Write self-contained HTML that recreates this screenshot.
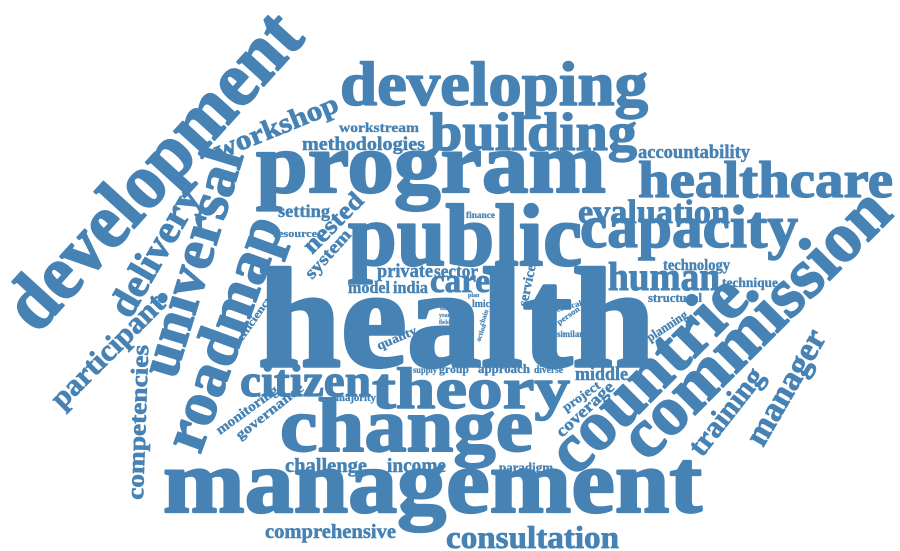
<!DOCTYPE html>
<html><head><meta charset="utf-8"><style>
html,body{margin:0;padding:0;background:#fff;}
svg{display:block;}
text{font-family:"Liberation Serif",serif;font-weight:bold;fill:#4682b4;stroke:#4682b4;stroke-width:0.025em;stroke-linejoin:round;}
</style></head><body>
<svg width="900" height="551" viewBox="0 0 900 551">
<g>
<text x="258" y="366" font-size="142" textLength="397" lengthAdjust="spacingAndGlyphs">health</text>
<text x="256" y="192" font-size="86" textLength="350" lengthAdjust="spacingAndGlyphs">program</text>
<text x="340" y="105" font-size="62" textLength="308" lengthAdjust="spacingAndGlyphs">developing</text>
<text x="430" y="150" font-size="54" textLength="207" lengthAdjust="spacingAndGlyphs">building</text>
<text x="638" y="158" font-size="19" textLength="112" lengthAdjust="spacingAndGlyphs">accountability</text>
<text x="339" y="132" font-size="14" textLength="80" lengthAdjust="spacingAndGlyphs">workstream</text>
<text x="302" y="150" font-size="19" textLength="123" lengthAdjust="spacingAndGlyphs">methodologies</text>
<text x="278" y="217" font-size="18" textLength="52" lengthAdjust="spacingAndGlyphs">setting</text>
<text x="466" y="218" font-size="9" textLength="29" lengthAdjust="spacingAndGlyphs">finance</text>
<text x="273" y="237" font-size="11" textLength="44" lengthAdjust="spacingAndGlyphs">resource</text>
<text x="578" y="223" font-size="34" textLength="152" lengthAdjust="spacingAndGlyphs">evaluation</text>
<text x="638" y="197" font-size="52" textLength="255" lengthAdjust="spacingAndGlyphs">healthcare</text>
<text x="348" y="265" font-size="88" textLength="234" lengthAdjust="spacingAndGlyphs">public</text>
<text x="580" y="247" font-size="60" textLength="218" lengthAdjust="spacingAndGlyphs">capacity</text>
<text x="608" y="290" font-size="40" textLength="112" lengthAdjust="spacingAndGlyphs">human</text>
<text x="663" y="270" font-size="16" textLength="67" lengthAdjust="spacingAndGlyphs">technology</text>
<text x="722" y="287" font-size="14" textLength="56" lengthAdjust="spacingAndGlyphs">technique</text>
<text x="648" y="302" font-size="13" textLength="54" lengthAdjust="spacingAndGlyphs">structural</text>
<text x="557" y="337" font-size="9" textLength="26" lengthAdjust="spacingAndGlyphs">similar</text>
<text x="575" y="380" font-size="19" textLength="53" lengthAdjust="spacingAndGlyphs">middle</text>
<text x="534" y="373" font-size="10" textLength="29" lengthAdjust="spacingAndGlyphs">diverse</text>
<text x="377" y="277" font-size="19" textLength="56" lengthAdjust="spacingAndGlyphs">private</text>
<text x="434" y="277" font-size="18" textLength="44" lengthAdjust="spacingAndGlyphs">sector</text>
<text x="348" y="293" font-size="17" textLength="42" lengthAdjust="spacingAndGlyphs">model</text>
<text x="393" y="293" font-size="17" textLength="35" lengthAdjust="spacingAndGlyphs">india</text>
<text x="430" y="292" font-size="34" textLength="60" lengthAdjust="spacingAndGlyphs">care</text>
<text x="472" y="307" font-size="10" textLength="18" lengthAdjust="spacingAndGlyphs">lmic</text>
<text x="468" y="297" font-size="6">plan</text>
<text x="440" y="310" font-size="6">shift</text>
<text x="439" y="317" font-size="6">year</text>
<text x="439" y="324" font-size="6">field</text>
<text x="478" y="373" font-size="13" textLength="52" lengthAdjust="spacingAndGlyphs">approach</text>
<text x="413" y="373" font-size="9" textLength="24" lengthAdjust="spacingAndGlyphs">supply</text>
<text x="439" y="373" font-size="12" textLength="30" lengthAdjust="spacingAndGlyphs">group</text>
<text x="372" y="408" font-size="58" textLength="198" lengthAdjust="spacingAndGlyphs">theory</text>
<text x="280" y="451" font-size="76" textLength="253" lengthAdjust="spacingAndGlyphs">change</text>
<text x="240" y="396" font-size="46" textLength="131" lengthAdjust="spacingAndGlyphs">citizen</text>
<text x="336" y="401" font-size="10" textLength="40" lengthAdjust="spacingAndGlyphs">majority</text>
<text x="285" y="472" font-size="20" textLength="82" lengthAdjust="spacingAndGlyphs">challenge</text>
<text x="387" y="472" font-size="20" textLength="59" lengthAdjust="spacingAndGlyphs">income</text>
<text x="499" y="472" font-size="14" textLength="54" lengthAdjust="spacingAndGlyphs">paradigm</text>
<text x="163" y="512" font-size="90" textLength="539" lengthAdjust="spacingAndGlyphs">management</text>
<text x="265" y="538" font-size="20" textLength="131" lengthAdjust="spacingAndGlyphs">comprehensive</text>
<text x="446" y="548" font-size="32" textLength="173" lengthAdjust="spacingAndGlyphs">consultation</text>

<text transform="translate(37,335) rotate(-47.7)" font-size="78" textLength="400" lengthAdjust="spacingAndGlyphs">development</text>
<text transform="translate(218,160) rotate(-22)" font-size="28" textLength="132" lengthAdjust="spacingAndGlyphs">workshop</text>
<text transform="translate(130,320) rotate(-60)" font-size="40" textLength="143" lengthAdjust="spacingAndGlyphs">delivery</text>
<text transform="translate(175,380) rotate(-73)" font-size="58" textLength="235" lengthAdjust="spacingAndGlyphs">universal</text>
<text transform="translate(200,455) rotate(-70)" font-size="62" textLength="245" lengthAdjust="spacingAndGlyphs">roadmap</text>
<text transform="translate(62,410) rotate(-45)" font-size="30" textLength="148" lengthAdjust="spacingAndGlyphs">participant</text>
<text transform="translate(143,500) rotate(-88)" font-size="24" textLength="155" lengthAdjust="spacingAndGlyphs">competencies</text>
<text transform="translate(312,255) rotate(-45)" font-size="25" textLength="75" lengthAdjust="spacingAndGlyphs">nested</text>
<text transform="translate(312,280) rotate(-48)" font-size="18" textLength="60" lengthAdjust="spacingAndGlyphs">system</text>
<text transform="translate(242,342) rotate(-55)" font-size="11" textLength="53" lengthAdjust="spacingAndGlyphs">efficiency</text>
<text transform="translate(220,435) rotate(-36)" font-size="14" textLength="73" lengthAdjust="spacingAndGlyphs">monitoring</text>
<text transform="translate(240,440) rotate(-38)" font-size="14" textLength="82" lengthAdjust="spacingAndGlyphs">governance</text>
<text transform="translate(379,350) rotate(-23)" font-size="13" textLength="42" lengthAdjust="spacingAndGlyphs">quality</text>
<text transform="translate(527,307) rotate(-78)" font-size="14" textLength="42" lengthAdjust="spacingAndGlyphs">service</text>
<text transform="translate(483,326) rotate(-70)" font-size="7">chain</text>
<text transform="translate(480,342) rotate(-70)" font-size="7">action</text>
<text transform="translate(557,312) rotate(-15)" font-size="8" textLength="26" lengthAdjust="spacingAndGlyphs">critical</text>
<text transform="translate(559,325) rotate(-35)" font-size="8" textLength="26" lengthAdjust="spacingAndGlyphs">person</text>
<text transform="translate(650,342) rotate(-33)" font-size="13" textLength="46" lengthAdjust="spacingAndGlyphs">planning</text>
<text transform="translate(566,412) rotate(-35)" font-size="13" textLength="43" lengthAdjust="spacingAndGlyphs">project</text>
<text transform="translate(562,438) rotate(-43)" font-size="17" textLength="73" lengthAdjust="spacingAndGlyphs">coverage</text>
<text transform="translate(575,478) rotate(-45)" font-size="70" textLength="249" lengthAdjust="spacingAndGlyphs">countrie</text>
<text transform="translate(647,463) rotate(-45)" font-size="70" textLength="350" lengthAdjust="spacingAndGlyphs">commission</text>
<text transform="translate(702,458) rotate(-52)" font-size="30" textLength="103" lengthAdjust="spacingAndGlyphs">training</text>
<text transform="translate(763,448) rotate(-60)" font-size="34" textLength="128" lengthAdjust="spacingAndGlyphs">manager</text>
</g>
</svg>
</body></html>
